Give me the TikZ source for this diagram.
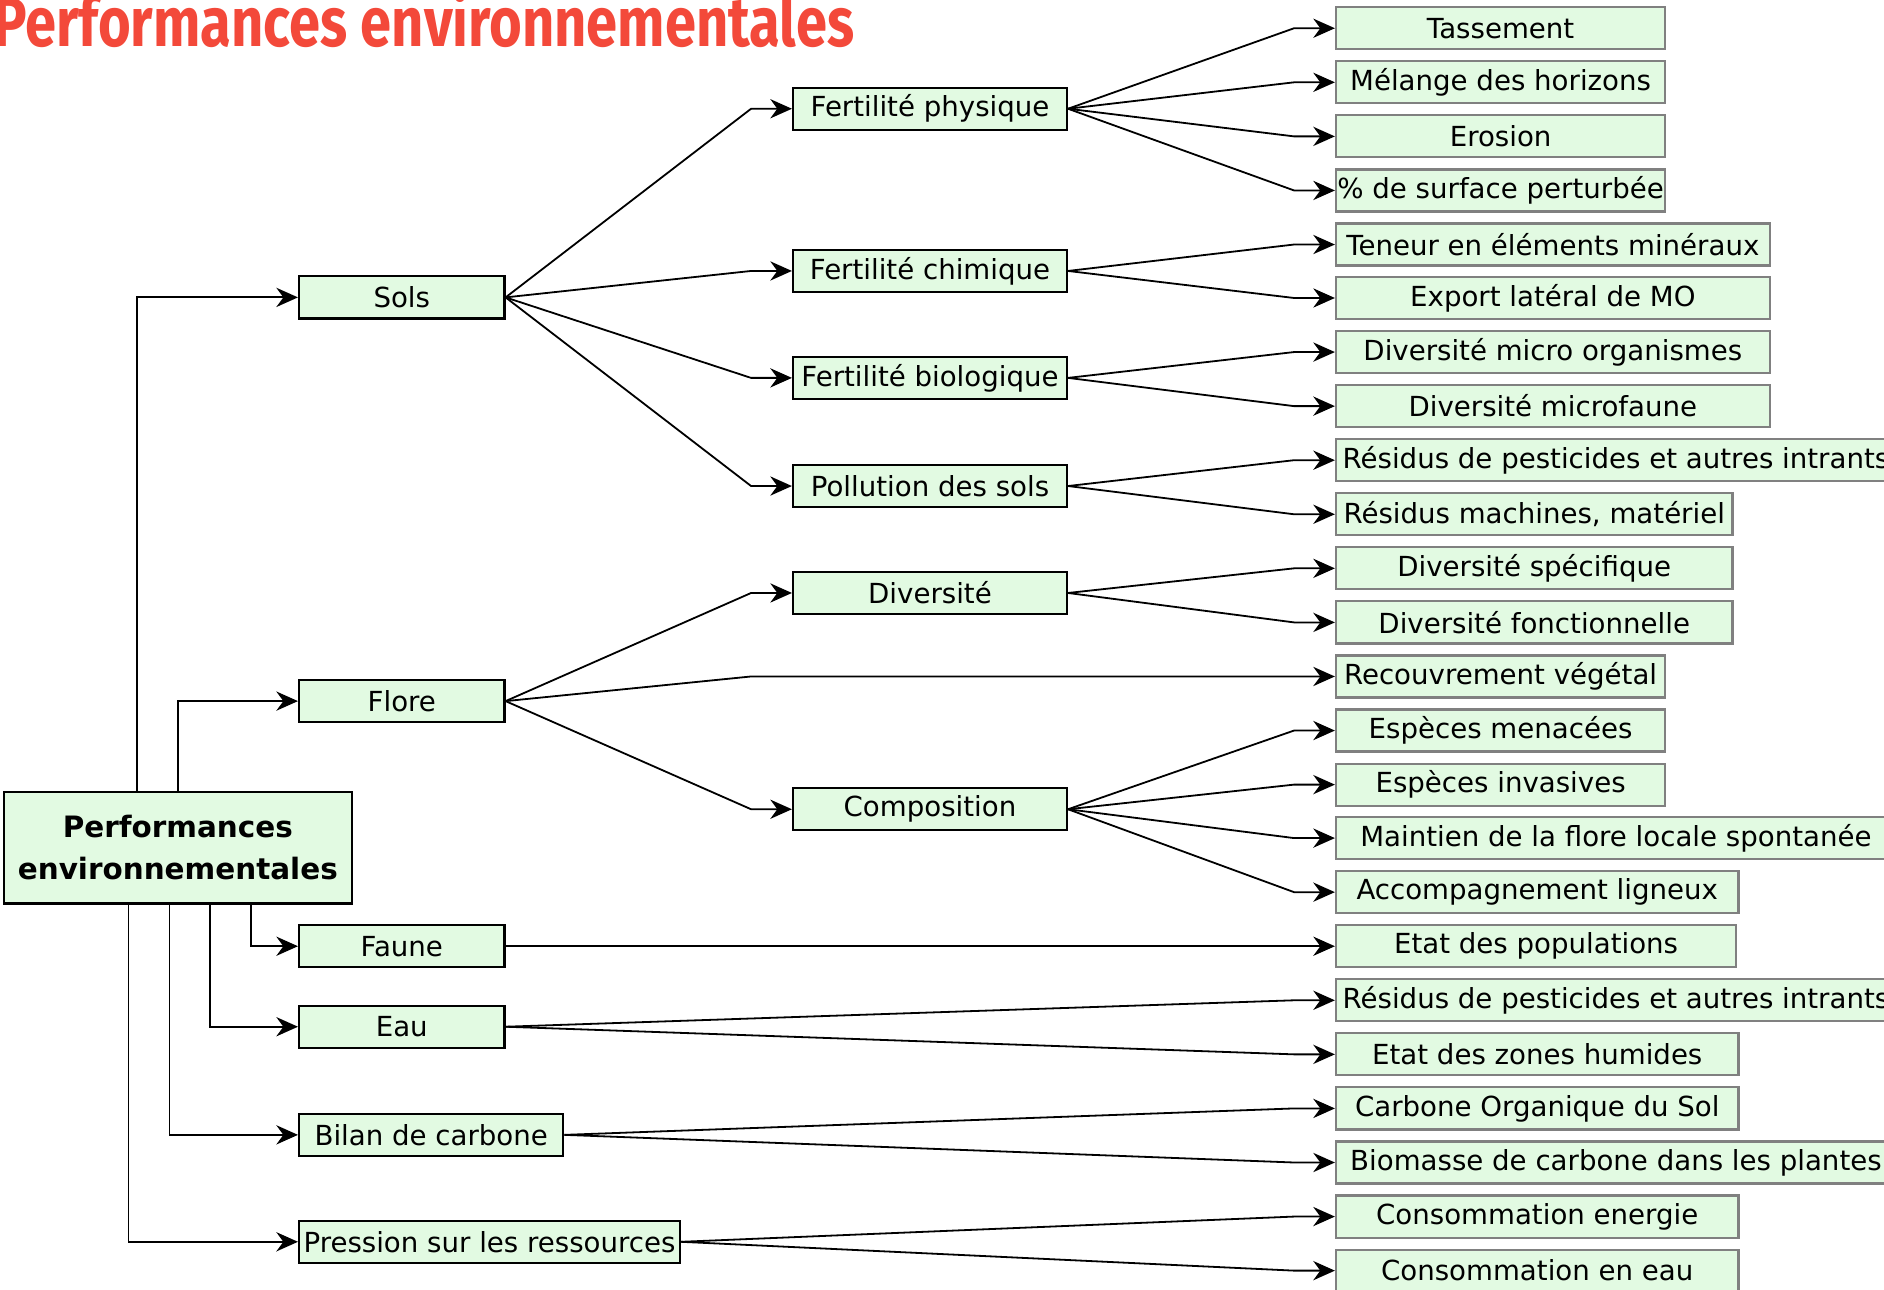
\documentclass[tikz,border=0pt]{standalone}
\usepackage{fontspec}
\setmainfont{DejaVu Sans}
\newfontfamily\titlefont[FakeStretch=0.805]{Fira Sans}
\usetikzlibrary{arrows.meta}
\definecolor{boxfill}{RGB}{226,250,226}
\definecolor{titlered}{RGB}{243,73,58}
\tikzset{
  box/.style={draw=black, line width=0.9pt, fill=boxfill, minimum height=17.5pt,
    inner sep=0pt, font=\fontsize{11.5}{14}\selectfont},
  leaf/.style={box, draw=gray, anchor=west},
  link/.style={-{Stealth[length=9pt,width=8pt]}, line width=0.75pt},
}

\begin{document}
\begin{tikzpicture}[x=0.5pt, y=-0.5pt]
         \useasboundingbox (0, 0) rectangle (1568, 1073);
         \node [anchor=base west, inner sep=0pt, text=titlered,
           font=\titlefont\bfseries\fontsize{29}{30}\selectfont] (TI) at (-6, 39) {Performances environnementales};
         \node [box, minimum width=145pt, minimum height=46.5pt, align=center,
           font=\bfseries\fontsize{12.25}{17.5}\selectfont] (PE) at (148, 705.5) {Performances\\environnementales};
         \node [box, anchor=west, minimum width=85.5pt] (SO) at (248, 247.5) {Sols};
         \node [box, anchor=west, minimum width=85.5pt] (FL) at (248, 583.5) {Flore};
         \node [box, anchor=west, minimum width=85.5pt] (FA) at (248, 787.5) {Faune};
         \node [box, anchor=west, minimum width=85.5pt] (EA) at (248, 854.5) {Eau};
         \node [box, anchor=west, minimum width=110pt] (BC) at (248, 944.5) {Bilan de carbone};
         \node [box, anchor=west, minimum width=158.5pt] (PR) at (248, 1033.5) {Pression sur les ressources};
         \node [box, minimum width=114pt] (FP) at (774, 90.5) {Fertilité physique};
         \node [box, minimum width=114pt] (FC) at (774, 225.5) {Fertilité chimique};
         \node [box, minimum width=114pt] (FB) at (774, 314.5) {Fertilité biologique};
         \node [box, minimum width=114pt] (PS) at (774, 404.5) {Pollution des sols};
         \node [box, minimum width=114pt] (DI) at (774, 493.5) {Diversité};
         \node [box, minimum width=114pt] (CO) at (774, 673.5) {Composition};
         \node [leaf, minimum width=137pt] (TAS) at (1111, 23.5) {Tassement};
         \node [leaf, minimum width=137pt] (MEL) at (1111, 68.5) {Mélange des horizons};
         \node [leaf, minimum width=137pt] (ERO) at (1111, 113.5) {Erosion};
         \node [leaf, minimum width=137pt] (SUR) at (1111, 158.5) {\% de surface perturbée};
         \node [leaf, minimum width=180.5pt] (TEN) at (1111, 203.5) {Teneur en éléments minéraux};
         \node [leaf, minimum width=180.5pt] (EXP) at (1111, 248) {Export latéral de MO};
         \node [leaf, minimum width=180.5pt] (DMO) at (1111, 293) {Diversité micro organismes};
         \node [leaf, minimum width=180.5pt] (DMF) at (1111, 338) {Diversité microfaune};
         \node [leaf, minimum width=233pt] (RPS) at (1111, 383) {Résidus de pesticides et autres intrants};
         \node [leaf, minimum width=165pt] (RMM) at (1111, 428) {Résidus machines, matériel};
         \node [leaf, minimum width=165pt] (DSP) at (1111, 473) {Diversité spécifique};
         \node [leaf, minimum width=165pt] (DFO) at (1111, 518) {Diversité fonctionnelle};
         \node [leaf, minimum width=137pt] (REC) at (1111, 563) {Recouvrement végétal};
         \node [leaf, minimum width=137pt] (EME) at (1111, 608) {Espèces menacées};
         \node [leaf, minimum width=137pt] (EIN) at (1111, 653) {Espèces invasives};
         \node [leaf, minimum width=233pt] (MFL) at (1111, 697.5) {Maintien de la flore locale spontanée};
         \node [leaf, minimum width=167.5pt] (ALI) at (1111, 742.5) {Accompagnement ligneux};
         \node [leaf, minimum width=166.5pt] (EPO) at (1111, 787.5) {Etat des populations};
         \node [leaf, minimum width=233pt] (RPE) at (1111, 832.5) {Résidus de pesticides et autres intrants};
         \node [leaf, minimum width=167.5pt] (EZH) at (1111, 877.5) {Etat des zones humides};
         \node [leaf, minimum width=167.5pt] (COS) at (1111, 922.5) {Carbone Organique du Sol};
         \node [leaf, minimum width=233pt] (BCP) at (1111, 967.5) {Biomasse de carbone dans les plantes};
         \node [leaf, minimum width=167.5pt] (CEN) at (1111, 1012.5) {Consommation energie};
         \node [leaf, minimum width=167.5pt] (CEA) at (1111, 1057.5) {Consommation en eau};
         \draw [link] ([xshift=-17pt]PE.north) |- (SO.west);
         \draw [link] (PE.north) |- (FL.west);
         \draw [link] ([xshift=30.5pt]PE.south) |- (FA.west);
         \draw [link] ([xshift=13.5pt]PE.south) |- (EA.west);
         \draw [link] ([xshift=-3.5pt]PE.south) |- (BC.west);
         \draw [link] ([xshift=-20.5pt]PE.south) |- (PR.west);
         \draw [link] (SO.east) -- ([xshift=-17pt]FP.west) -- (FP.west);
         \draw [link] (SO.east) -- ([xshift=-17pt]FC.west) -- (FC.west);
         \draw [link] (SO.east) -- ([xshift=-17pt]FB.west) -- (FB.west);
         \draw [link] (SO.east) -- ([xshift=-17pt]PS.west) -- (PS.west);
         \draw [link] (FL.east) -- ([xshift=-17pt]DI.west) -- (DI.west);
         \draw [link] (FL.east) -- ([xshift=-17pt]DI.west |- REC.west) -- (REC.west);
         \draw [link] (FL.east) -- ([xshift=-17pt]CO.west) -- (CO.west);
         \draw [link] (FA.east) -- (EPO.west);
         \draw [link] (FP.east) -- ([xshift=-17pt]TAS.west) -- (TAS.west);
         \draw [link] (FP.east) -- ([xshift=-17pt]MEL.west) -- (MEL.west);
         \draw [link] (FP.east) -- ([xshift=-17pt]ERO.west) -- (ERO.west);
         \draw [link] (FP.east) -- ([xshift=-17pt]SUR.west) -- (SUR.west);
         \draw [link] (FC.east) -- ([xshift=-17pt]TEN.west) -- (TEN.west);
         \draw [link] (FC.east) -- ([xshift=-17pt]EXP.west) -- (EXP.west);
         \draw [link] (FB.east) -- ([xshift=-17pt]DMO.west) -- (DMO.west);
         \draw [link] (FB.east) -- ([xshift=-17pt]DMF.west) -- (DMF.west);
         \draw [link] (PS.east) -- ([xshift=-17pt]RPS.west) -- (RPS.west);
         \draw [link] (PS.east) -- ([xshift=-17pt]RMM.west) -- (RMM.west);
         \draw [link] (DI.east) -- ([xshift=-17pt]DSP.west) -- (DSP.west);
         \draw [link] (DI.east) -- ([xshift=-17pt]DFO.west) -- (DFO.west);
         \draw [link] (CO.east) -- ([xshift=-17pt]EME.west) -- (EME.west);
         \draw [link] (CO.east) -- ([xshift=-17pt]EIN.west) -- (EIN.west);
         \draw [link] (CO.east) -- ([xshift=-17pt]MFL.west) -- (MFL.west);
         \draw [link] (CO.east) -- ([xshift=-17pt]ALI.west) -- (ALI.west);
         \draw [link] (EA.east) -- ([xshift=-17pt]RPE.west) -- (RPE.west);
         \draw [link] (EA.east) -- ([xshift=-17pt]EZH.west) -- (EZH.west);
         \draw [link] (BC.east) -- ([xshift=-17pt]COS.west) -- (COS.west);
         \draw [link] (BC.east) -- ([xshift=-17pt]BCP.west) -- (BCP.west);
         \draw [link] (PR.east) -- ([xshift=-17pt]CEN.west) -- (CEN.west);
         \draw [link] (PR.east) -- ([xshift=-17pt]CEA.west) -- (CEA.west);
\end{tikzpicture}
\end{document}
